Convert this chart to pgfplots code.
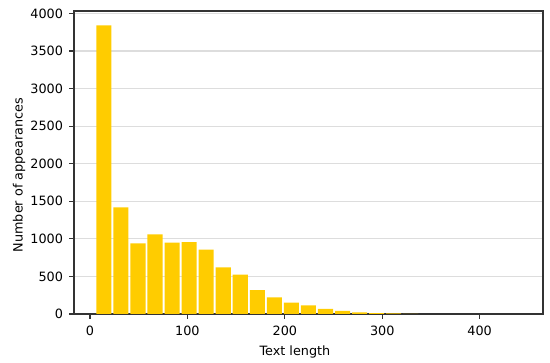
\documentclass[border=0pt]{standalone}
\usepackage{fontspec}
\setmainfont{DejaVu Sans}
\usepackage{pgfplots}
\pgfplotsset{compat=1.18}
\definecolor{baryellow}{HTML}{FFCC00}
\definecolor{gridgray}{HTML}{DDDDDD}
\definecolor{spine}{HTML}{333333}
\pgfplotsset{
  layers/gridbehind/.define layer set={
    axis background,axis grid,pre main,main,axis ticks,axis lines,axis tick labels,axis descriptions,axis foreground
  }{},
}
\begin{document}
\begin{tikzpicture}[x=1pt,y=1pt]
\begin{axis}[
  set layers=gridbehind,
  scale only axis,
  width=351.75pt, height=227.25pt,
  xmin=-16.4, xmax=465, ymin=0, ymax=4032,
  xtick={0,100,200,300,400},
  ytick={0,500,1000,1500,2000,2500,3000,3500,4000},
  /pgf/number format/assume math mode=true,
  /pgf/number format/1000 sep={},
  tick label style={font=\fontsize{9.6}{11}\selectfont, text=black},
  xticklabel style={yshift=-2pt},
  yticklabel style={xshift=-1pt},
  label style={font=\fontsize{9.6}{11}\selectfont},
  ymajorgrids,
  grid style={gridgray, line width=0.8pt},
  axis line style={spine, line width=0.8pt},
  tick style={spine, line width=0.8pt},
  tick align=outside,
  major tick length=3.7pt,
  xtick pos=bottom, ytick pos=left,
  xlabel={Text length},
  ylabel={Number of appearances},
  xlabel style={at={(axis description cs:0.471,0)}, anchor=north, yshift=-20pt},
  ylabel style={at={(axis description cs:0,0.459)}, anchor=south, yshift=33pt},
]
\addplot[ybar interval, bar interval width=0.885, bar interval shift=0.5, fill=baryellow, draw=none] coordinates {
(5.5,3840) (23.0,1419) (40.5,940) (58.0,1060) (75.5,949) (93.0,958) (110.5,855)
(128.0,621) (145.5,525) (163.0,319) (180.5,222) (198.0,151) (215.5,115)
(233.0,67) (250.5,40) (268.0,22) (285.5,13) (303.0,8) (320.5,3) (338.0,3)
};
\end{axis}
\pgfresetboundingbox
\path[use as bounding box] (-55.5pt,-36.75pt) rectangle (357pt,235.5pt);
\end{tikzpicture}
\end{document}
